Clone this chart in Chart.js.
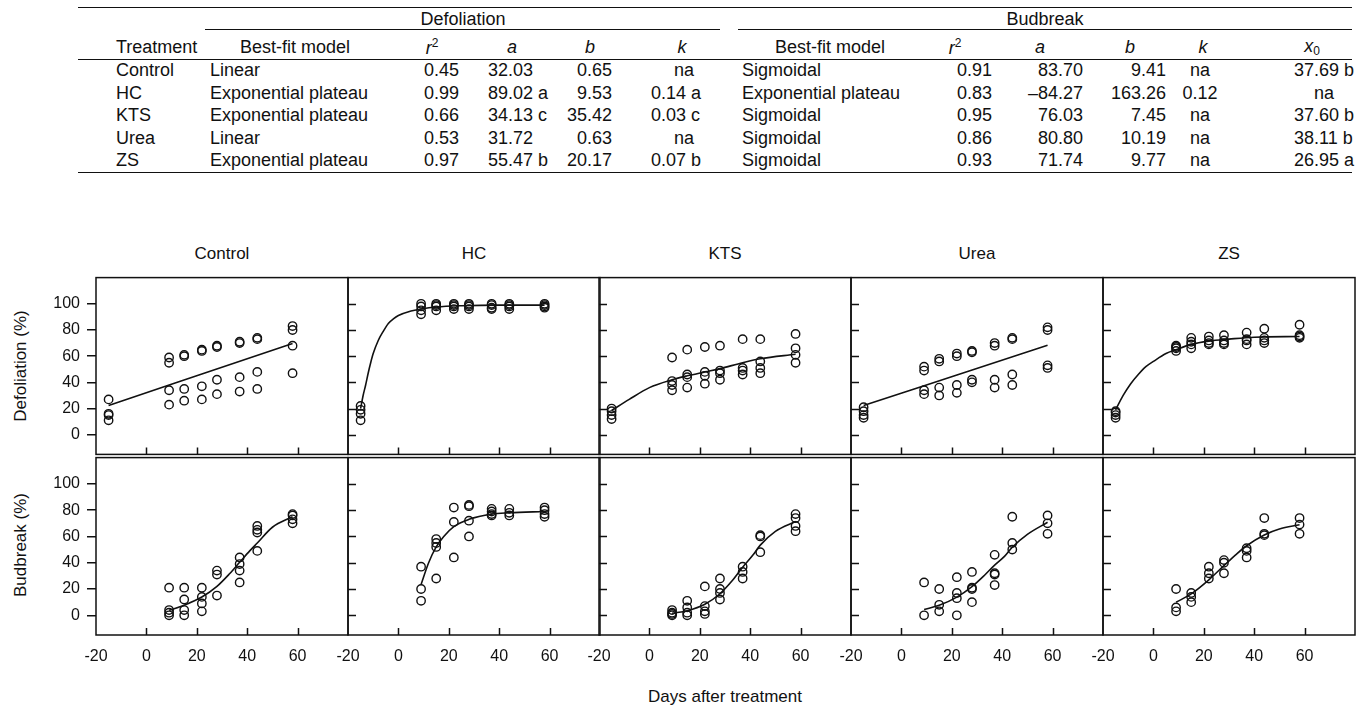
<!DOCTYPE html>
<html>
<head>
<meta charset="utf-8">
<script src="https://cdn.jsdelivr.net/npm/chart.js@4.4.1/dist/chart.umd.min.js"></script>
<style>
body { margin: 0; background: #fff; font-family: "Liberation Sans", Arial, sans-serif; color: #111; }
#fig { position: relative; width: 1369px; height: 706px; overflow: hidden; background: #fff; }
.t { position: absolute; white-space: nowrap; font-size: 17px; line-height: 1; }
.tb { font-size: 18px; }
.rule { position: absolute; height: 0; border-top: 1.5px solid #111; }
canvas { position: absolute; }
i { font-style: italic; }
</style>
</head>
<body>
<div id="fig"></div>
<script>
// ---- table values ----
const tblTreat = ['Control', 'HC', 'KTS', 'Urea', 'ZS'];
const defModel = ['Linear', 'Exponential plateau', 'Exponential plateau', 'Linear', 'Exponential plateau'];
const defR2 = ['0.45', '0.99', '0.66', '0.53', '0.97'];
const defA = ['32.03', '89.02 a', '34.13 c', '31.72', '55.47 b'];
const defB = ['0.65', '9.53', '35.42', '0.63', '20.17'];
const defK = ['na', '0.14 a', '0.03 c', 'na', '0.07 b'];
const budModel = ['Sigmoidal', 'Exponential plateau', 'Sigmoidal', 'Sigmoidal', 'Sigmoidal'];
const budR2 = ['0.91', '0.83', '0.95', '0.86', '0.93'];
const budA = ['83.70', '\u201384.27', '76.03', '80.80', '71.74'];
const budB = ['9.41', '163.26', '7.45', '10.19', '9.77'];
const budK = ['na', '0.12', 'na', 'na', 'na'];
const budX0 = ['37.69 b', 'na', '37.60 b', '38.11 b', '26.95 a'];

// ---- axes ----
const xTicks = [-20, 0, 20, 40, 60];
const yTicks = [0, 20, 40, 60, 80, 100];

// ---- observations (replicates per sampling day) ----
const defDays = [-15, 9, 15, 22, 28, 37, 44, 58];
const budDays = [9, 15, 22, 28, 37, 44, 58];

const defControl = [[27, 16, 15, 11], [59, 55, 34, 23], [61, 60, 35, 26], [65, 64, 37, 27], [68, 67, 42, 31], [71, 70, 44, 33], [74, 73, 48, 35], [83, 80, 68, 47]];
const defHC = [[22, 19, 16, 11], [100, 98, 95, 92], [100, 99, 98, 95], [100, 99, 98, 96], [100, 99, 98, 96], [100, 99, 97, 96], [100, 99, 98, 96], [100, 99, 98, 97]];
const defKTS = [[20, 18, 15, 12], [59, 41, 38, 34], [65, 46, 44, 36], [67, 48, 45, 39], [68, 49, 47, 42], [73, 51, 49, 46], [73, 56, 51, 47], [77, 66, 61, 55]];
const defUrea = [[21, 18, 15, 13], [52, 49, 34, 31], [58, 56, 36, 30], [62, 60, 38, 32], [64, 63, 42, 40], [70, 68, 42, 36], [74, 73, 46, 38], [82, 80, 53, 51]];
const defZS = [[18, 17, 15, 13], [68, 67, 66, 64], [74, 71, 69, 66], [75, 72, 70, 69], [76, 72, 70, 69], [78, 73, 72, 69], [81, 74, 72, 70], [84, 76, 75, 74]];

const budControl = [[21, 4, 2, 0], [21, 12, 4, 0], [21, 14, 9, 3], [34, 31, 15], [44, 39, 34, 25], [68, 65, 63, 49], [77, 76, 73, 70]];
const budHC = [[37, 20, 11], [58, 55, 52, 28], [82, 71, 44], [84, 83, 72, 60], [81, 79, 77, 76], [81, 78, 76], [82, 80, 77, 75]];
const budKTS = [[4, 2, 1, 0], [11, 6, 2, 0], [22, 7, 3, 1], [28, 20, 17, 12], [37, 33, 28], [61, 60, 48], [77, 74, 68, 64]];
const budUrea = [[25, 0], [20, 8, 3], [29, 17, 13, 0], [33, 21, 20, 10], [46, 32, 31, 23], [75, 55, 50], [76, 70, 62]];
const budZS = [[20, 6, 3], [17, 14, 10], [37, 32, 28], [42, 40, 32], [51, 49, 44], [74, 62, 61], [74, 69, 62]];

// ---- fitted curves [day, %] ----
const defControlFit = [[-15, 22.3], [58, 69.7]];
const defHCFit = [[-15, 20], [-14, 30], [-13, 38], [-12, 47], [-11, 55], [-10, 62], [-8, 72], [-6, 79], [-4, 85], [-2, 88.5], [0, 91], [5, 94.5], [9, 96], [15, 97.5], [25, 98.5], [40, 99], [58, 99]];
const defKTSFit = [[-15, 18.5], [-8, 27], [0, 36], [9, 42], [15, 45], [22, 48], [28, 50.5], [37, 55], [44, 58], [58, 61.5]];
const defUreaFit = [[-15, 22.3], [58, 68.3]];
const defZSFit = [[-15, 19], [-12, 30], [-9, 39], [-6, 46], [-3, 52], [0, 56], [5, 62], [9, 65], [15, 69], [22, 71.5], [30, 73], [40, 74.5], [58, 75]];

const budControlFit = [[9, 3.8], [15, 7.7], [22, 13.9], [28, 22], [33, 31.6], [37, 40.3], [41, 49], [44, 55], [50, 67], [58, 75]];
const budHCFit = [[9, 23.5], [12, 40], [15, 52], [18, 60], [22, 67.5], [28, 73], [37, 77], [44, 78], [58, 79]];
const budKTSFit = [[9, 1.6], [15, 3.5], [22, 8.4], [28, 16.4], [33, 26.6], [37, 36.5], [41, 45.6], [44, 53.4], [50, 63.9], [58, 71.4]];
const budUreaFit = [[9, 4.4], [15, 7.6], [22, 13.8], [28, 21.8], [33, 30.5], [37, 38.2], [41, 45], [44, 51.8], [50, 61.6], [58, 70.8]];
const budZSFit = [[9, 9.9], [15, 16.3], [22, 27], [28, 37.8], [33, 46.6], [37, 52.9], [44, 61.1], [50, 65.6], [58, 68.9]];

const defObs = [defControl, defHC, defKTS, defUrea, defZS];
const defFits = [defControlFit, defHCFit, defKTSFit, defUreaFit, defZSFit];
const budObs = [budControl, budHC, budKTS, budUrea, budZS];
const budFits = [budControlFit, budHCFit, budKTSFit, budUreaFit, budZSFit];

const fig = document.getElementById('fig');

function txt(html, x, y, align, extra, cls) {
    const d = document.createElement('div');
    d.className = 't' + (cls ? ' ' + cls : '');
    d.innerHTML = html;
    d.style.left = x + 'px';
    d.style.top = y + 'px';
    const tx = align === 'right' ? '-100%' : (align === 'center' ? '-50%' : '0');
    d.style.transform = `translate(${tx}, -50%)` + (extra || '');
    fig.appendChild(d);
    return d;
}

function cell(html, x, y, align) {
    return txt(html, x, y, align, '', 'tb');
}

function rule(x1, x2, y) {
    const d = document.createElement('div');
    d.className = 'rule';
    d.style.left = x1 + 'px';
    d.style.width = (x2 - x1) + 'px';
    d.style.top = y + 'px';
    fig.appendChild(d);
}

// ---- table ----
const r2 = '<i>r</i><sup style="font-size:12px;vertical-align:7px">2</sup>';
rule(78, 1352, 7);
cell('Defoliation', 463, 19, 'center');
cell('Budbreak', 1045, 19, 'center');
rule(205, 720, 29);
rule(738, 1352, 29);
cell('Treatment', 116, 47, 'left');
cell('Best-fit model', 295, 47, 'center');
cell(r2, 432, 47, 'center');
cell('<i>a</i>', 512, 47, 'center');
cell('<i>b</i>', 590, 47, 'center');
cell('<i>k</i>', 682, 47, 'center');
cell('Best-fit model', 830, 47, 'center');
cell(r2, 955, 47, 'center');
cell('<i>a</i>', 1040, 47, 'center');
cell('<i>b</i>', 1130, 47, 'center');
cell('<i>k</i>', 1203, 47, 'center');
cell('<i>x</i><sub style="font-size:12px;vertical-align:-3px">0</sub>', 1312, 47, 'center');
rule(78, 1352, 59);

const rowY = [70, 92.5, 115, 137.5, 160];
tblTreat.forEach((name, i) => {
    const y = rowY[i];
    cell(name, 116, y, 'left');
    cell(defModel[i], 210, y, 'left');
    cell(defR2[i], 459, y, 'right');
    cell(defA[i], 488, y, 'left');
    cell(defB[i], 612, y, 'right');
    if (defK[i] === 'na') cell('na', 684, y, 'center'); else cell(defK[i], 651, y, 'left');
    cell(budModel[i], 742, y, 'left');
    cell(budR2[i], 992, y, 'right');
    cell(budA[i], 1083, y, 'right');
    cell(budB[i], 1166, y, 'right');
    cell(budK[i], 1200, y, 'center');
    if (budX0[i] === 'na') cell('na', 1324, y, 'center'); else cell(budX0[i], 1294, y, 'left');
});
rule(78, 1352, 172);

// ---- panels ----
const panelLeft = [96, 348, 599, 851, 1103];
const panelW = 252;
const rowsGeom = [{ top: 276, h: 180 }, { top: 456, h: 179 }];
const padL = 22, padR = 22, padT = 4, padB = 4;
const yAxisW = 50, xAxisH = 34;

tblTreat.forEach((name, c) => txt(name, panelLeft[c] + panelW / 2, 253, 'center'));
txt('Defoliation (%)', 20, 366, 'center', ' rotate(-90deg)');
txt('Budbreak (%)', 20, 545, 'center', ' rotate(-90deg)');
txt('Days after treatment', 725, 696, 'center', '');

const framePlugin = {
    id: 'frame',
    afterDatasetsDraw(chart, args, opts) {
        const { ctx, chartArea: a, scales } = chart;
        const x = scales.x, y = scales.y;
        ctx.save();
        ctx.strokeStyle = '#111';
        ctx.lineWidth = 1.5;
        ctx.strokeRect(a.left, a.top, a.right - a.left, a.bottom - a.top);
        ctx.beginPath();
        xTicks.forEach(v => {
            if (v > x.min && v < x.max) {
                const px = Math.round(x.getPixelForValue(v)) + 0.5;
                ctx.moveTo(px, a.bottom);
                ctx.lineTo(px, a.bottom - 7);
            }
        });
        if (opts.innerY) {
            yTicks.forEach(v => {
                const py = Math.round(y.getPixelForValue(v)) + 0.5;
                ctx.moveTo(a.left, py);
                ctx.lineTo(a.left + 8, py);
            });
        }
        ctx.stroke();
        ctx.restore();
    }
};

function toPoints(days, obs) {
    const pts = [];
    obs.forEach((vals, i) => vals.forEach(v => pts.push({ x: days[i], y: v })));
    return pts;
}

function makePanel(row, col, obs, days, fit) {
    const g = rowsGeom[row];
    const first = col === 0;
    const showX = row === 1;
    const leftExtra = padL + (first ? yAxisW : 0);
    const bottomExtra = showX ? xAxisH : padB;
    const cv = document.createElement('canvas');
    const w = panelW + leftExtra + padR;
    const h = g.h + padT + bottomExtra;
    cv.width = w;
    cv.height = h;
    cv.style.left = (panelLeft[col] - leftExtra) + 'px';
    cv.style.top = (g.top - padT) + 'px';
    cv.style.width = w + 'px';
    cv.style.height = h + 'px';
    fig.appendChild(cv);

    new Chart(cv.getContext('2d'), {
        type: 'scatter',
        data: {
            datasets: [
                {
                    type: 'line',
                    data: fit.map(p => ({ x: p[0], y: p[1] })),
                    borderColor: '#111',
                    borderWidth: 1.6,
                    pointRadius: 0,
                    fill: false,
                    cubicInterpolationMode: 'monotone'
                },
                {
                    data: toPoints(days, obs),
                    pointStyle: 'circle',
                    pointRadius: 4.2,
                    borderColor: '#111',
                    borderWidth: 1.4,
                    backgroundColor: 'rgba(0,0,0,0)'
                }
            ]
        },
        options: {
            responsive: false,
            animation: false,
            devicePixelRatio: 1,
            events: [],
            layout: { padding: { left: padL, right: padR, top: padT, bottom: showX ? 0 : padB } },
            plugins: {
                legend: { display: false },
                tooltip: { enabled: false },
                frame: { innerY: !first }
            },
            scales: {
                x: {
                    type: 'linear',
                    min: -20,
                    max: 80,
                    display: showX,
                    afterBuildTicks: s => { s.ticks = xTicks.map(v => ({ value: v })); },
                    afterFit: s => {
                        s.height = showX ? xAxisH : 0;
                        s.paddingLeft = 0;
                        s.paddingRight = 0;
                    },
                    grid: { display: false, drawTicks: false },
                    border: { display: false },
                    ticks: {
                        color: '#111',
                        padding: 12,
                        maxRotation: 0,
                        font: { family: '"Liberation Sans", Arial, sans-serif', size: 16 }
                    }
                },
                y: {
                    type: 'linear',
                    min: -15,
                    max: 120,
                    display: first,
                    afterBuildTicks: s => { s.ticks = yTicks.map(v => ({ value: v })); },
                    afterFit: s => {
                        s.width = first ? yAxisW : 0;
                        s.paddingTop = 0;
                        s.paddingBottom = 0;
                    },
                    grid: {
                        display: true,
                        drawOnChartArea: false,
                        drawTicks: true,
                        tickLength: 9,
                        color: '#111',
                        lineWidth: 1.5
                    },
                    border: { display: false },
                    ticks: {
                        color: '#111',
                        padding: 7,
                        font: { family: '"Liberation Sans", Arial, sans-serif', size: 16 }
                    }
                }
            }
        },
        plugins: [framePlugin]
    });
}

for (let c = 0; c < 5; c++) {
    makePanel(0, c, defObs[c], defDays, defFits[c]);
    makePanel(1, c, budObs[c], budDays, budFits[c]);
}
</script>
</body>
</html>
